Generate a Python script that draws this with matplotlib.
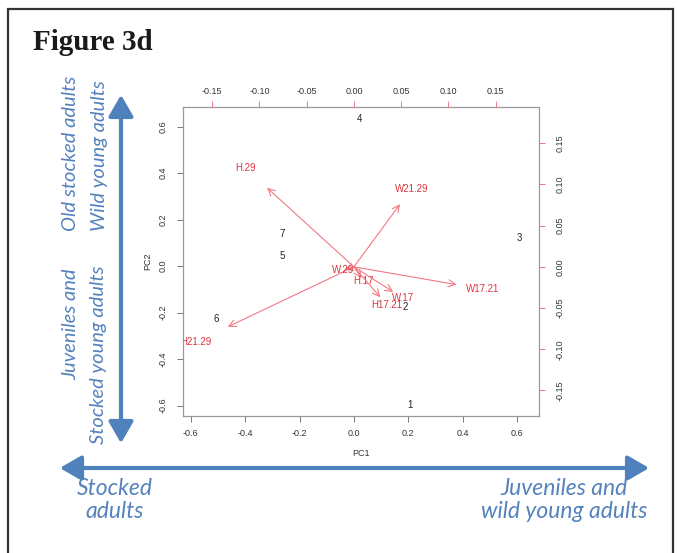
import matplotlib
matplotlib.use("Agg")
import matplotlib.pyplot as plt
from matplotlib.patches import FancyArrowPatch, Rectangle

# observation scores (bottom / left axes)
obs_labels = ["1", "2", "3", "4", "5", "6", "7"]
obs_pc1 = [0.206, 0.188, 0.607, 0.022, -0.265, -0.508, -0.265]
obs_pc2 = [-0.598, -0.176, 0.120, 0.632, 0.043, -0.228, 0.138]

# variable loadings (top / right axes)
var_labels = ["H.29", "W21.29", "W17.21", "H21.29", "W.29", "H.17", "W.17", "H17.21"]
var_pc1 = [-0.115, 0.061, 0.136, -0.167, -0.012, 0.010, 0.052, 0.035]
var_pc2 = [0.120, 0.095, -0.027, -0.091, -0.004, -0.017, -0.038, -0.046]

ticks_main = [-0.6, -0.4, -0.2, 0.0, 0.2, 0.4, 0.6]
ticks_var = [-0.15, -0.10, -0.05, 0.00, 0.05, 0.10, 0.15]

W, H = 678, 553
fig = plt.figure(figsize=(W / 100, H / 100), dpi=100)
tick_font = "Liberation Sans"
blue = "#4f81bd"
txt_blue = "#5582bd"
red_txt = "#e0343f"
red_arr = "#f07a84"

def fx(px):
    return px / W

def fy(py):
    return 1 - py / H

# outer frame
fig.patches.append(Rectangle((fx(8), fy(600)), fx(673) - fx(8), fy(9) - fy(600),
                             transform=fig.transFigure, fill=False,
                             edgecolor="#333333", lw=1.6))
fig.text(fx(33), fy(50), "Figure 3d", family="Liberation Serif", weight="bold",
         fontsize=21, color="#1a1a1a", ha="left", va="baseline")

pos = [fx(183), fy(416), fx(539) - fx(183), fy(107) - fy(416)]
ax = fig.add_axes(pos)
ax.set_xlim(-0.629, 0.681)
ax.set_ylim(-0.645, 0.684)
ax.set_xticks(ticks_main)
ax.set_yticks(ticks_main)
ax.set_xticklabels(["%.1f" % t for t in ticks_main])
ax.set_yticklabels(["%.1f" % t for t in ticks_main])
ax.tick_params(axis="both", direction="out", length=4, width=0.7, color="#777777",
               labelsize=6.5, labelcolor="#333333")
ax.tick_params(axis="x", pad=5)
ax.tick_params(axis="y", pad=7, labelrotation=90)
for lab in ax.get_yticklabels():
    lab.set_va("center")
for lab in ax.get_xticklabels() + ax.get_yticklabels():
    lab.set_family(tick_font)
for s in ax.spines.values():
    s.set_color("#9a9a9a")
    s.set_linewidth(0.9)
ax.set_xlabel("PC1", fontsize=6.5, family=tick_font, color="#333333", labelpad=8)
ax.set_ylabel("PC2", fontsize=6.5, family=tick_font, color="#333333", labelpad=5)

for lab, x, y in zip(obs_labels, obs_pc1, obs_pc2):
    ax.text(x, y, lab, fontsize=7, family=tick_font, color="#222222",
            ha="center", va="center")

ax2 = fig.add_axes(pos, frameon=False)
ax2.patch.set_visible(False)
ax2.set_xlim(-0.181, 0.196)
ax2.set_ylim(-0.181, 0.194)
ax2.xaxis.tick_top()
ax2.yaxis.tick_right()
ax2.set_xticks(ticks_var)
ax2.set_yticks(ticks_var)
ax2.set_xticklabels(["%.2f" % t for t in ticks_var])
ax2.set_yticklabels(["%.2f" % t for t in ticks_var])
ax2.tick_params(axis="both", direction="out", length=4, width=0.7, color=red_arr,
                labelsize=6.5, labelcolor="#333333")
ax2.tick_params(axis="x", pad=4)
ax2.tick_params(axis="y", pad=8, labelrotation=90)
for lab in ax2.get_yticklabels():
    lab.set_va("center")
for lab in ax2.get_xticklabels() + ax2.get_yticklabels():
    lab.set_family(tick_font)

for lab, x, y in zip(var_labels, var_pc1, var_pc2):
    ax2.annotate("", xy=(0.8 * x, 0.8 * y), xytext=(0, 0),
                 arrowprops=dict(arrowstyle="->,head_length=0.5,head_width=0.25",
                                 color=red_arr, lw=0.8, shrinkA=0, shrinkB=0))
    ax2.text(x, y, lab, fontsize=7, family=tick_font, color=red_txt,
             ha="center", va="center", clip_on=True)

# blue direction arrows
fig.patches.append(FancyArrowPatch((fx(121), fy(446)), (fx(121), fy(92)),
                                   transform=fig.transFigure,
                                   arrowstyle="<|-|>,head_length=13,head_width=7.5",
                                   mutation_scale=1, color=blue, lw=3))
fig.patches.append(FancyArrowPatch((fx(57), fy(468)), (fx(652), fy(468)),
                                   transform=fig.transFigure,
                                   arrowstyle="<|-|>,head_length=13,head_width=7.5",
                                   mutation_scale=1, color=blue, lw=3))

vlbl = dict(family=["Lato", "DejaVu Sans"], style="italic", fontsize=14.5,
            color=txt_blue, rotation_mode="anchor", rotation=90, va="center")
fig.text(fx(71), fy(231), "Old stocked adults", ha="left", **vlbl)
fig.text(fx(99), fy(231), "Wild young adults", ha="left", **vlbl)
fig.text(fx(71), fy(268), "Juveniles and", ha="right", **vlbl)
fig.text(fx(99), fy(265), "Stocked young adults", ha="right", **vlbl)

hlbl = dict(family=["Lato", "DejaVu Sans"], style="italic", fontsize=16.5,
            color=txt_blue, ha="center", va="center", linespacing=1.15,
            multialignment="center")
fig.text(fx(115), fy(500), "Stocked\nadults", **hlbl)
fig.text(fx(564), fy(500), "Juveniles and\nwild young adults", **hlbl)

fig.savefig("out.png", dpi=100)
